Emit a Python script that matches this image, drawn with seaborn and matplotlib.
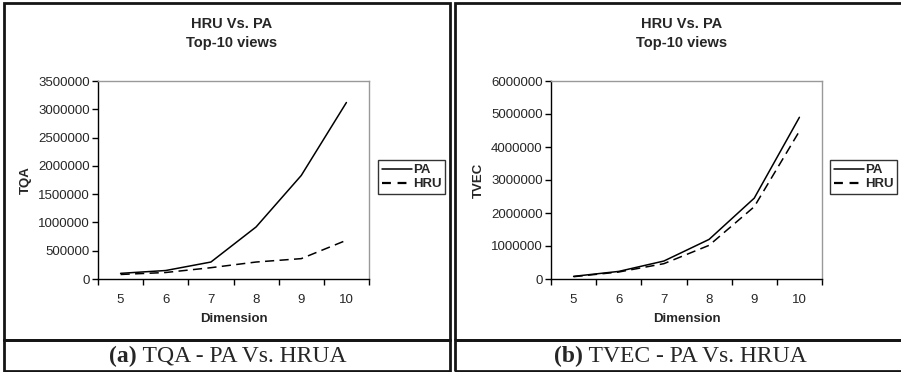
import matplotlib
matplotlib.use("Agg")
import matplotlib.pyplot as plt
from matplotlib.patches import Rectangle
from matplotlib.lines import Line2D
import seaborn as sns
import pandas as pd
import numpy as np

sns.set_theme(style="white")
plt.rcParams['font.family'] = ['Liberation Sans', 'DejaVu Sans']

dimensions = ["5", "6", "7", "8", "9", "10"]
tqa_pa = [100000, 150000, 300000, 920000, 1830000, 3120000]
tqa_hru = [80000, 115000, 200000, 300000, 360000, 685000]
tvec_pa = [80000, 230000, 545000, 1200000, 2450000, 4900000]
tvec_hru = [70000, 212000, 465000, 1020000, 2190000, 4480000]
series_names = ["PA", "HRU"]
titles = ["HRU Vs. PA\nTop-10 views", "HRU Vs. PA\nTop-10 views"]
ylabels = ["TQA", "TVEC"]
xlabel = "Dimension"
captions = [("(a)", " TQA - PA Vs. HRUA"), ("(b)", " TVEC - PA Vs. HRUA")]
ymaxes = [3500000, 6000000]
ysteps = [500000, 1000000]

W, H = 901, 372
fig = plt.figure(figsize=(W / 100, H / 100), dpi=100)

def fx(px):
    return px / W

def fy(py):
    return 1 - py / H

def rect(x0, y0, x1, y1, lw=2.0, ec="#151515"):
    fig.patches.append(Rectangle((fx(x0), fy(y1)), fx(x1) - fx(x0), fy(y0) - fy(y1),
                                 transform=fig.transFigure, fill=False, lw=lw, ec=ec))

panels = [
    dict(box=(4, 3, 450, 340), cap=(4, 340, 450, 371), ax=(98, 81, 369, 279), leg=(378, 160),
         pa=tqa_pa, hru=tqa_hru),
    dict(box=(455, 3, 906, 340), cap=(455, 340, 906, 371), ax=(551, 81, 822, 279), leg=(830, 160),
         pa=tvec_pa, hru=tvec_hru),
]

for i, p in enumerate(panels):
    rect(*p["box"])
    rect(*p["cap"])
    x0, y0, x1, y1 = p["ax"]
    ax = fig.add_axes([fx(x0), fy(y1), fx(x1) - fx(x0), fy(y0) - fy(y1)])
    df = pd.DataFrame({
        "pos": list(range(len(dimensions))) * 2,
        "value": p["pa"] + p["hru"],
        "series": [series_names[0]] * len(dimensions) + [series_names[1]] * len(dimensions),
    })
    sns.lineplot(data=df, x="pos", y="value", style="series", color="black",
                 dashes={"PA": "", "HRU": (6, 3.5)}, linewidth=1.1, ax=ax, legend=False)
    ax.set_xlim(-0.5, len(dimensions) - 0.5)
    ax.set_ylim(0, ymaxes[i])
    ax.set_yticks(np.arange(0, ymaxes[i] + 1, ysteps[i]))
    ax.set_yticklabels([str(int(v)) for v in np.arange(0, ymaxes[i] + 1, ysteps[i])], fontsize=9.5)
    ax.set_xticks(range(len(dimensions)))
    ax.set_xticklabels(dimensions, fontsize=9.5)
    ax.set_xticks(np.arange(-0.5, len(dimensions)), minor=True)
    ax.tick_params(axis="x", which="major", length=0, pad=11)
    ax.tick_params(axis="x", which="minor", length=4, width=1, color="black", direction="out", bottom=True)
    ax.tick_params(axis="y", which="major", length=4, width=1, color="black", direction="out", left=True, pad=2)
    for s in ["top", "right"]:
        ax.spines[s].set_color("#999999")
        ax.spines[s].set_linewidth(1)
    for s in ["left", "bottom"]:
        ax.spines[s].set_color("black")
        ax.spines[s].set_linewidth(1)
    ax.set_xlabel(xlabel, fontsize=9.5, fontweight="bold", labelpad=5)
    ax.set_ylabel(ylabels[i], fontsize=9.5, fontweight="bold", labelpad=4)
    ax.grid(False)
    ax.set_facecolor("white")
    # title
    cx = (p["box"][0] + p["box"][2]) / 2 + 5 if i == 0 else 682
    fig.text(fx(cx), fy(33.5), titles[i], ha="center", va="center", fontsize=10.5,
             fontweight="bold", linespacing=1.4)
    # legend
    handles = [Line2D([], [], color="black", lw=1.1),
               Line2D([], [], color="black", lw=1.6, dashes=(4, 3))]
    lx, ly = p["leg"]
    leg = fig.legend(handles, series_names, loc="upper left", bbox_to_anchor=(fx(lx), fy(ly)),
                     bbox_transform=fig.transFigure, frameon=True, fancybox=False,
                     prop={"weight": "bold", "size": 9.5}, handlelength=2.25, handletextpad=0.1,
                     borderpad=0.3, labelspacing=0.15, borderaxespad=0)
    leg.get_frame().set_edgecolor("black")
    leg.get_frame().set_linewidth(1)
    # caption
    ccx = (p["cap"][0] + p["cap"][2]) / 2 if i == 0 else 680
    cy = fy(356)
    bold_part, rest = captions[i]
    t = fig.text(fx(ccx), cy, bold_part + rest, ha="center", va="center", fontsize=17,
                 family=["Liberation Serif", "DejaVu Serif"], alpha=0)
    fig.canvas.draw()
    bb = t.get_window_extent()
    left_px = bb.x0
    t1 = fig.text(left_px / W, cy, bold_part, ha="left", va="center", fontsize=17,
                  fontweight="bold", family=["Liberation Serif", "DejaVu Serif"])
    fig.canvas.draw()
    b1 = t1.get_window_extent()
    fig.text(b1.x1 / W, cy, rest, ha="left", va="center", fontsize=17,
             family=["Liberation Serif", "DejaVu Serif"])
    t.remove()

fig.savefig("out.png", dpi=100)
